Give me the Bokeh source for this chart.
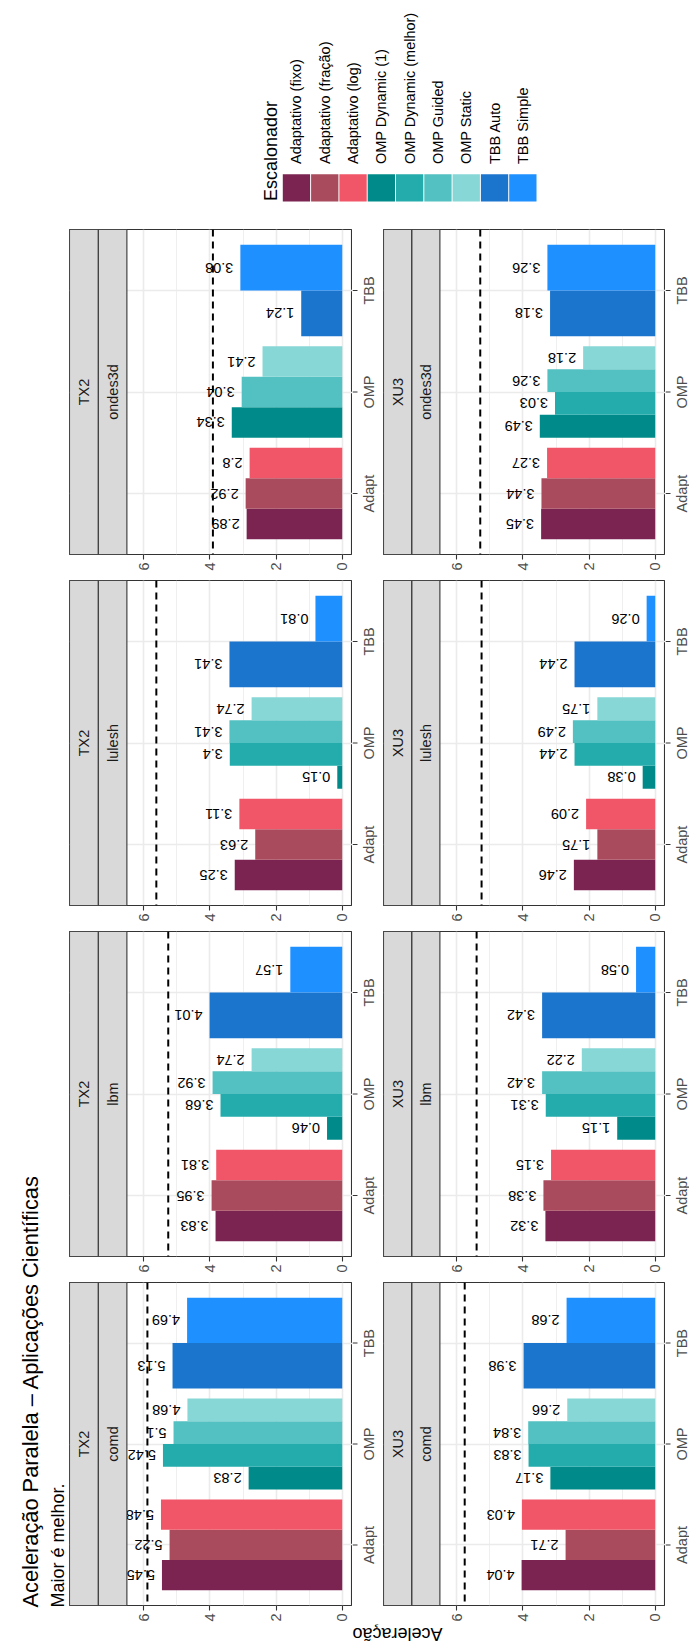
import math

from bokeh.core.properties import value
from bokeh.embed import file_html
from bokeh.layouts import column, row
from bokeh.models import ColumnDataSource, FixedTicker, Grid, Range1d, Span
from bokeh.plotting import figure
from bokeh.resources import INLINE

# ---------------------------------------------------------------- data
schedulers = [
    "Adaptativo (fixo)", "Adaptativo (fração)", "Adaptativo (log)",
    "OMP Dynamic (1)", "OMP Dynamic (melhor)", "OMP Guided", "OMP Static",
    "TBB Auto", "TBB Simple",
]
families = ["Adapt", "Adapt", "Adapt", "OMP", "OMP", "OMP", "OMP", "TBB", "TBB"]
colors = ["#7B2451", "#A94B5D", "#F05667", "#008B8A", "#24ABAB",
          "#53C1C1", "#86D7D6", "#1C75CD", "#1E90FF"]
categories = ["Adapt", "OMP", "TBB"]
machines = ["TX2", "XU3"]
apps = ["ondes3d", "lulesh", "lbm", "comd"]   # top to bottom on the page
value_ticks = [0, 2, 4, 6]
value_minor = [1, 3, 5]

# speedup per scheduler (same order as `schedulers`); None = not measured
tx2_comd = [5.45, 5.22, 5.48, 2.83, 5.42, 5.1, 4.68, 5.13, 4.69]
tx2_lbm = [3.83, 3.95, 3.81, 0.46, 3.68, 3.92, 2.74, 4.01, 1.57]
tx2_lulesh = [3.25, 2.63, 3.11, 0.15, 3.4, 3.41, 2.74, 3.41, 0.81]
tx2_ondes3d = [2.89, 2.92, 2.8, 3.34, None, 3.04, 2.41, 1.24, 3.08]
xu3_comd = [4.04, 2.71, 4.03, 3.17, 3.83, 3.84, 2.66, 3.98, 2.68]
xu3_lbm = [3.32, 3.38, 3.15, 1.15, 3.31, 3.42, 2.22, 3.42, 0.58]
xu3_lulesh = [2.46, 1.75, 2.09, 0.38, 2.44, 2.49, 1.75, 2.44, 0.26]
xu3_ondes3d = [3.45, 3.44, 3.27, 3.49, 3.03, 3.26, 2.18, 3.18, 3.26]

# dashed reference speedup per application
tx2_reference = {"comd": 5.89, "lbm": 5.26, "lulesh": 5.62, "ondes3d": 3.91}
xu3_reference = {"comd": 5.76, "lbm": 5.40, "lulesh": 5.25, "ondes3d": 5.29}

speedups = {
    ("TX2", "comd"): tx2_comd, ("TX2", "lbm"): tx2_lbm,
    ("TX2", "lulesh"): tx2_lulesh, ("TX2", "ondes3d"): tx2_ondes3d,
    ("XU3", "comd"): xu3_comd, ("XU3", "lbm"): xu3_lbm,
    ("XU3", "lulesh"): xu3_lulesh, ("XU3", "ondes3d"): xu3_ondes3d,
}
references = {"TX2": tx2_reference, "XU3": xu3_reference}

title_text = "Aceleração Paralela – Aplicações Científicas"
subtitle_text = "Maior é melhor."
axis_title = "Aceleração"
legend_title = "Escalonador"

# ---------------------------------------------------------------- style
FONT = "Liberation Sans"
LABEL_PX = 14.5
DARK = "#333333"
GRID = "#EBEBEB"
STRIP = "#D9D9D9"
VAL_LO, VAL_HI = -0.31, 6.51      # value axis limits of each panel
PX_PER_UNIT = 33.08               # horizontal scale shared by all panels
FRAME_H = 325
CAT_LO, CAT_HI = 0.4, 3.6
DODGE = 0.9
TICK = 5
NAME_BASELINE = 16.5              # px from panel edge to category-name baseline

# advance widths (em) of Liberation Sans, used to centre the upright category names
ADVANCE = {"A": 0.667, "d": 0.556, "a": 0.556, "p": 0.556, "t": 0.278,
           "O": 0.778, "M": 0.833, "P": 0.667, "T": 0.611, "B": 0.667}


def text_px(s):
    return sum(ADVANCE.get(ch, 0.556) for ch in s) * LABEL_PX


def bare_figure(width, height, x_range, y_range, **kw):
    f = figure(width=width, height=height, title=None, toolbar_location=None,
               output_backend="svg", x_range=x_range, y_range=y_range,
               x_axis_type=None, y_axis_type=None, min_border=0, **kw)
    f.outline_line_color = None
    f.grid.visible = False
    return f


def panel(machine, app, frame_w, bottom_border):
    left_edge = VAL_LO + frame_w / PX_PER_UNIT
    p = figure(width=frame_w, height=FRAME_H + bottom_border, title=None,
               toolbar_location=None, output_backend="svg",
               x_range=Range1d(left_edge, VAL_LO), y_range=Range1d(CAT_LO, CAT_HI),
               y_axis_type=None, min_border=0, min_border_bottom=bottom_border)
    p.outline_line_color = DARK
    p.outline_line_width = 1.1

    # grid
    p.xgrid.ticker = FixedTicker(ticks=value_ticks, minor_ticks=value_minor)
    p.xgrid.grid_line_color = GRID
    p.xgrid.grid_line_width = 1.6
    p.xgrid.minor_grid_line_color = GRID
    p.xgrid.minor_grid_line_width = 0.8
    p.add_layout(Grid(dimension=1, ticker=FixedTicker(ticks=[1, 2, 3]),
                      grid_line_color=GRID, grid_line_width=1.6))

    # value axis
    ax = p.xaxis[0]
    ax.ticker = FixedTicker(ticks=value_ticks)
    ax.axis_line_color = None
    ax.major_tick_line_color = DARK
    ax.major_tick_line_width = 1.1
    ax.major_tick_out = TICK
    ax.major_tick_in = 0
    ax.minor_tick_line_color = None
    ax.major_label_text_font = FONT
    ax.major_label_text_font_size = f"{LABEL_PX}px"
    ax.major_label_text_color = "#4D4D4D"
    ax.major_label_standoff = 3
    ax.major_label_orientation = math.pi / 2

    # dodged bars
    vals = speedups[(machine, app)]
    ys, hs, xs, cs, labels = [], [], [], [], []
    for k, cat in enumerate(categories):
        members = [i for i, v in enumerate(vals) if v is not None and families[i] == cat]
        n = len(members)
        for j, i in enumerate(members):
            ys.append(k + 1 - DODGE / 2 + DODGE / n * (j + 0.5))
            hs.append(DODGE / n)
            xs.append(vals[i])
            cs.append(colors[i])
            labels.append(f"{vals[i]:g}")
    src = ColumnDataSource(dict(y=ys, h=hs, v=xs, c=cs, label=labels))
    p.hbar(y="y", height="h", left=0, right="v", fill_color="c", line_color=None, source=src)
    p.text(x="v", y="y", text="label", source=src, angle=math.pi, x_offset=-7,
           text_align="left", text_baseline="middle", text_color="black",
           text_font=value(FONT), text_font_size=f"{LABEL_PX}px")

    p.add_layout(Span(location=references[machine][app], dimension="height",
                      line_color="black", line_width=2, line_dash="7 5"))

    # facet strips (machine, application)
    mid = VAL_HI + (left_edge - VAL_HI) / 2
    p.quad(left=[VAL_HI, mid], right=[mid, left_edge], bottom=CAT_LO, top=CAT_HI,
           fill_color=STRIP, line_color=DARK, line_width=1.1)
    p.text(x=[(VAL_HI + mid) / 2, (mid + left_edge) / 2], y=[(CAT_LO + CAT_HI) / 2] * 2,
           text=[app, machine], angle=math.pi / 2, text_align="center",
           text_baseline="middle", text_color="#1A1A1A",
           text_font=value(FONT), text_font_size=f"{LABEL_PX}px")
    return p


def category_axis(panel_fig, width, bottom_border):
    # category ticks and names to the right of a panel, sharing its y range
    f = bare_figure(width, FRAME_H + bottom_border, Range1d(0, width),
                    panel_fig.y_range, min_border_bottom=bottom_border)
    pos = [k + 1 for k in range(len(categories))]
    f.segment(x0=0, x1=TICK, y0=pos, y1=pos, line_color=DARK, line_width=1.1)
    names = ColumnDataSource(dict(
        x=[NAME_BASELINE] * len(categories), y=pos, text=categories,
        shift=[text_px(c) / 2 for c in categories]))
    f.text(x="x", y="y", text="text", y_offset="shift", source=names,
           angle=math.pi / 2, text_align="left", text_baseline="alphabetic",
           text_color="#4D4D4D", text_font=value(FONT), text_font_size=f"{LABEL_PX}px")
    return f


# ---------------------------------------------------------------- panels
# frame width, width of the category axis beside it
col_width = {"TX2": (283, 31), "XU3": (282, 24)}
bottom_borders = {"ondes3d": 26, "lulesh": 26, "lbm": 26, "comd": 17}
panel_cols = []
for m in machines:
    fw, nw = col_width[m]
    rows = []
    for a in apps:
        bb = bottom_borders[a]
        pf = panel(m, a, fw, bb)
        rows.append(row(pf, category_axis(pf, nw, bb), spacing=0))
    panel_cols.append(column(*rows, spacing=0))

panels_h = sum(FRAME_H + bottom_borders[a] for a in apps)
top_h = 229
bottom_h = 1651 - top_h - panels_h

# ---------------------------------------------------------------- title block
tf = bare_figure(69, panels_h, Range1d(0, 69), Range1d(top_h + panels_h, top_h))
tf.text(x=[30], y=[1607], text=[title_text], angle=math.pi / 2, text_align="left",
        text_baseline="alphabetic", text_color="black",
        text_font=value(FONT), text_font_size="21.8px")
tf.text(x=[57], y=[1607], text=[subtitle_text], angle=math.pi / 2, text_align="left",
        text_baseline="alphabetic", text_color="black",
        text_font=value(FONT), text_font_size="18px")

# ---------------------------------------------------------------- legend
lf = bare_figure(689, top_h, Range1d(0, 689), Range1d(top_h, 0))
key_x0, key_step, key_w = 282.3, 28.3, 27.3
key_top, key_bottom = 173.7, 201
kx = [key_x0 + key_step * i for i in range(len(schedulers))]
lf.quad(left=kx, right=[x + key_w for x in kx], top=key_top, bottom=key_bottom,
        fill_color=colors, line_color=None)
lf.text(x=[x + key_w / 2 for x in kx], y=[163.5] * len(schedulers), text=schedulers,
        angle=math.pi / 2, text_align="left", text_baseline="middle", text_color="black",
        text_font=value(FONT), text_font_size=f"{LABEL_PX}px")
lf.text(x=[270.5], y=[200.5], text=[legend_title], angle=math.pi / 2, text_align="left",
        text_baseline="alphabetic", text_color="black",
        text_font=value(FONT), text_font_size="18px")

# ---------------------------------------------------------------- value axis title
af = bare_figure(689, bottom_h, Range1d(0, 689), Range1d(1651, 1651 - bottom_h))
af.text(x=[397], y=[1633.5], text=[axis_title], angle=math.pi, text_align="center",
        text_baseline="alphabetic", text_color="black",
        text_font=value(FONT), text_font_size="18px")

page = column(lf, row(tf, *panel_cols, spacing=0), af, spacing=0)

with open("out.html", "w") as fh:
    fh.write(file_html(page, INLINE))
